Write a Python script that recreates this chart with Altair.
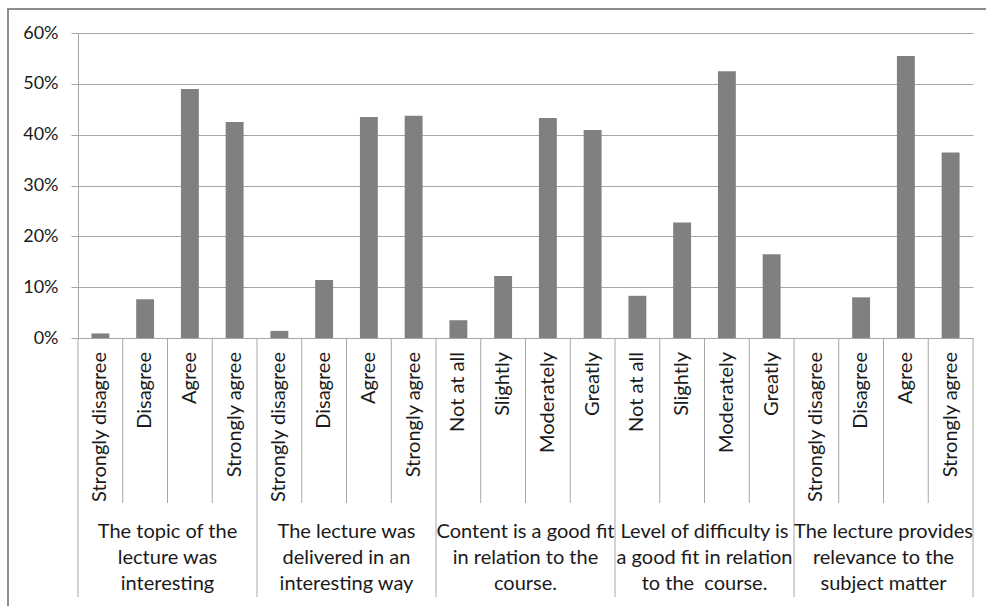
import altair as alt
import pandas as pd

# Survey answers, in order of appearance along the category axis
answers = [
    "Strongly disagree", "Disagree", "Agree", "Strongly agree",
    "Strongly disagree", "Disagree", "Agree", "Strongly agree",
    "Not at all", "Slightly", "Moderately", "Greatly",
    "Not at all", "Slightly", "Moderately", "Greatly",
    "Strongly disagree", "Disagree", "Agree", "Strongly agree",
]
shares = [
    0.009, 0.076, 0.490, 0.425,
    0.014, 0.114, 0.435, 0.437,
    0.035, 0.122, 0.433, 0.409,
    0.083, 0.227, 0.525, 0.165,
    0.000, 0.080, 0.555, 0.365,
]
questions = [
    "The topic of the\nlecture was\ninteresting",
    "The lecture was\ndelivered in an\ninteresting way",
    "Content is a good fit\nin relation to the\ncourse.",
    "Level of difficulty is\na good fit in relation\nto the\u00a0 course.",
    "The lecture provides\nrelevance to the\nsubject matter",
]
y_ticks = [0, 0.1, 0.2, 0.3, 0.4, 0.5, 0.6]

FONT = "Lato"
TEXT = "#1a1a1a"
LINE = "#a6a6a6"
W, H = 895, 305

idx = list(range(len(answers)))
bars = pd.DataFrame({"idx": idx, "answer": answers, "share": shares})
groups = pd.DataFrame({"idx": [4 * g + 2 for g in range(len(questions))], "question": questions})
short_seps = pd.DataFrame({"idx": [i for i in idx if i % 4 != 0]})
long_seps = pd.DataFrame({"idx": [i for i in idx if i % 4 == 0]})
end_sep = pd.DataFrame({"idx": [idx[-1]]})

xscale = alt.Scale(domain=idx, paddingInner=0, paddingOuter=0)


def xpos(band=0.5):
    return alt.X("idx:O", scale=xscale, axis=None, bandPosition=band)


yaxis = alt.Axis(
    values=y_ticks, format="%", grid=True, gridColor=LINE, gridWidth=1,
    domainColor=LINE, tickColor=LINE, tickSize=7, labelPadding=13,
    labelFont=FONT, labelFontSize=18, labelColor=TEXT, title=None,
)

bar_layer = alt.Chart(bars).mark_bar(
    color="#808080", width=alt.RelativeBandSize(0.4)
).encode(
    x=xpos(),
    y=alt.Y("share:Q", scale=alt.Scale(domain=[0, 0.6], nice=False), axis=yaxis),
)

cat_labels = alt.Chart(bars).mark_text(
    angle=270, align="right", baseline="middle", font=FONT, fontSize=20, color=TEXT
).encode(x=xpos(), y=alt.value(H + 14), text="answer:N")

grp_labels = alt.Chart(groups).mark_text(
    align="center", baseline="middle", lineBreak="\n", lineHeight=26,
    font=FONT, fontSize=20, color=TEXT,
).encode(x=xpos(0), y=alt.value(H + 194), text="question:N")

short_rules = alt.Chart(short_seps).mark_rule(color=LINE, strokeWidth=1).encode(
    x=xpos(0), y=alt.value(H), y2=alt.value(H + 165)
)
long_rules = alt.Chart(long_seps).mark_rule(color=LINE, strokeWidth=1).encode(
    x=xpos(0), y=alt.value(H), y2=alt.value(H + 259)
)
end_rule = alt.Chart(end_sep).mark_rule(color=LINE, strokeWidth=1).encode(
    x=xpos(1), y=alt.value(H), y2=alt.value(H + 259)
)

# outer frame of the figure (left and top edges)
frame_left = alt.Chart(end_sep).mark_rule(color="#8c8c8c", strokeWidth=2).encode(
    x=alt.value(-70), y=alt.value(-24), y2=alt.value(H + 300)
)
frame_top = alt.Chart(end_sep).mark_rule(color="#8c8c8c", strokeWidth=2).encode(
    x=alt.value(-71), x2=alt.value(W + 20), y=alt.value(-24)
)

chart = alt.layer(
    bar_layer, short_rules, long_rules, end_rule, cat_labels, grp_labels,
    frame_left, frame_top,
).properties(
    width=W, height=H,
    autosize=alt.AutoSizeParams(type="none"),
    padding={"left": 78, "top": 33, "right": 13, "bottom": 268},
    background="white",
).configure_view(stroke=None)

chart.save("out.html", embed_options={"renderer": "svg", "actions": False})
